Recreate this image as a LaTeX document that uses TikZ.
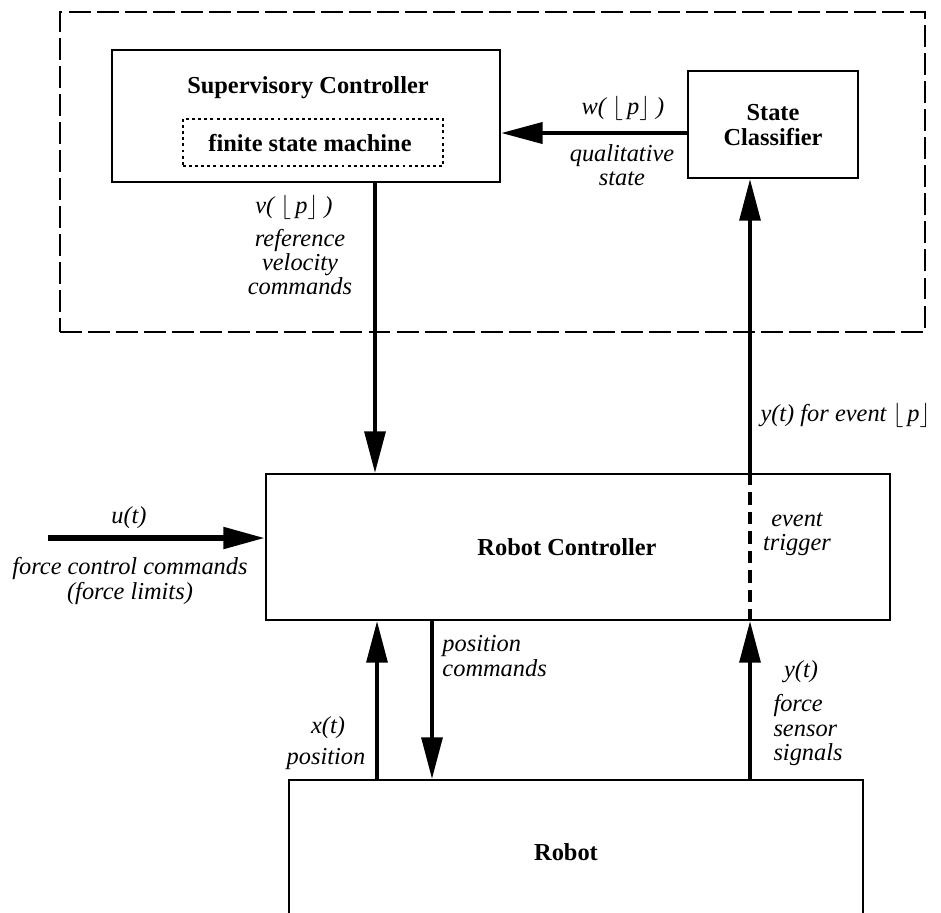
\documentclass[tikz,border=0pt]{standalone}
\usepackage{fontspec}
\setmainfont{Liberation Serif}
\usetikzlibrary{arrows.meta, positioning, fit, calc}

\newcommand{\flr}[1]{$\lfloor$\,\textit{#1}$\rfloor$}

\begin{document}
\begin{tikzpicture}[x=0.41pt, y=-0.41pt,
    every node/.style={font=\fontsize{10}{10}\selectfont, inner sep=0pt},
    bold/.style={font=\fontsize{10}{10}\selectfont\bfseries},
    blk/.style={draw, line width=1pt, inner sep=0pt},
    lbl/.style={font=\fontsize{10}{10}\selectfont\itshape, align=center},
    arr/.style={line width=1.35pt, -{Triangle[length=17pt, width=8.6pt]}}]

  \useasboundingbox (0,0) rectangle (941,912);
  \clip (0,0) rectangle (941,912);

  % System boundary
  \node[draw, line width=1.1pt, dash pattern=on 9pt off 2.5pt, fit={(60,12) (925,332)}] (sys) {};

  % Supervisory controller with its state machine
  \node[blk, fit={(112,50) (500,182)}] (sup) {};
  \node[bold] (suptxt) at (308,88) {Supervisory Controller};
  \node[draw, line width=0.8pt, dash pattern=on 1.2pt off 1.3pt, fit={(183,119) (443,166)}] (fsm) {};
  \node[bold] (fsmtxt) at (310,143) {finite state machine};

  % State classifier
  \node[blk, fit={(688,71) (858,178)}] (sc) {};
  \node[bold, align=center] (sctxt) at (773,125) {State\\Classifier};

  % Robot controller and robot
  \node[blk, fit={(266,474) (890,620)}] (rc) {};
  \node[bold] (rctxt) at (567,547) {Robot Controller};
  \node[blk, fit={(289,780) (863,935)}] (rob) {};
  \node[bold] (robtxt) at (566,852) {Robot};

  % Signal lines
  \coordinate (vx) at (375,0);
  \coordinate (ex) at (750,0);
  \coordinate (xx) at (377,0);
  \coordinate (px) at (432,0);
  \coordinate (wy) at (0,133);
  \coordinate (uin) at (48,538);

  \draw[arr, line width=1.7pt] (sc.west |- wy) -- (sup.east |- wy);
  \draw[arr] (sup.south -| vx) -- (rc.north -| vx);
  \draw[arr] (rc.north -| ex) -- (sc.south -| ex);
  \draw[arr, line width=2.2pt] (uin) -- (rc.west |- uin);
  \draw[arr] (rob.north -| xx) -- (rc.south -| xx);
  \draw[arr] (rc.south -| px) -- (rob.north -| px);
  \draw[arr] (rob.north -| ex) -- (rc.south -| ex);
  \draw[line width=1.3pt, dash pattern=on 5pt off 3pt] (rc.north -| ex) -- (rc.south -| ex);

  % Labels
  \node[lbl] (wlbl) at (623,108) {w( \flr{p} )};
  \node[lbl] (qlbl) at (622,165) {qualitative\\state};
  \node[lbl] (vlbl) at (294,207) {v( \flr{p} )};
  \node[lbl] (rvlbl) at (300,262) {reference\\velocity\\commands};
  \node[lbl, anchor=west] (ylbl) at (760,415) {y(t) for event \flr{p}};
  \node[lbl] (ulbl) at (129,518) {u(t)};
  \node[lbl] (fclbl) at (130,581) {force control commands\\(force limits)};
  \node[lbl] (etlbl) at (797,534) {event\\trigger};
  \node[lbl, anchor=west, align=left] (pclbl) at (442,656) {position\\commands};
  \node[lbl] (xlbl) at (328,728) {x(t)};
  \node[lbl] (poslbl) at (326,759) {position};
  \node[lbl] (ytlbl) at (801,672) {y(t)};
  \node[lbl, anchor=west, align=left] (fslbl) at (773,730) {force\\sensor\\signals};

\end{tikzpicture}
\end{document}
